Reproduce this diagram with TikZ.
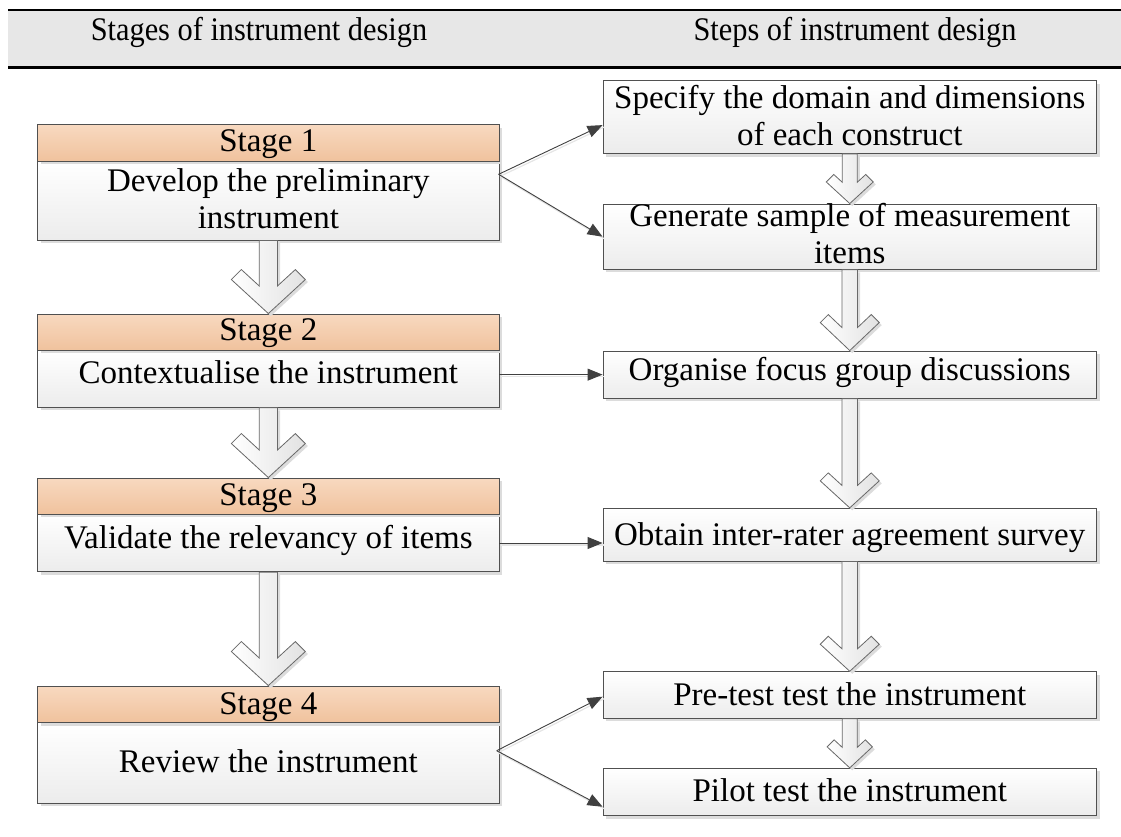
\documentclass[tikz,border=0pt]{standalone}
\usepackage{fontspec}
\setmainfont{Liberation Serif}
\usetikzlibrary{arrows.meta,calc,shadows}

\definecolor{bandgray}{RGB}{231,231,231}
\definecolor{orangetop}{RGB}{248,217,192}
\definecolor{orangebot}{RGB}{240,194,157}
\definecolor{boxbot}{RGB}{236,236,236}
\definecolor{edgegray}{RGB}{80,80,80}
\definecolor{conngray}{RGB}{64,64,64}
\definecolor{shadegray}{RGB}{220,220,220}
\definecolor{arrowgray}{RGB}{226,226,226}
\definecolor{arrowedge}{RGB}{105,105,105}

\tikzset{
  boxshadow/.style={drop shadow={shadow xshift=3pt, shadow yshift=-3pt, fill=shadegray, opacity=1}},
  plainbox/.style={draw=edgegray, line width=0.9pt, top color=white, bottom color=boxbot, inner sep=0pt, boxshadow},
  stagehead/.style={draw=edgegray, line width=0.9pt, top color=orangetop, bottom color=orangebot,
                    inner sep=0pt, minimum width=461.3pt, boxshadow},
  stagebody/.style={plainbox, minimum width=461.3pt},
  stepbox/.style={plainbox, minimum width=493.5pt},
  txt/.style={font=\fontsize{33}{36}\selectfont, inner sep=0pt, anchor=base},
  conn/.style={draw=conngray, line width=0.9pt, -{Triangle[length=15pt,width=12pt]}},
  connshade/.style={draw=black!10, line width=1.2pt, transform canvas={xshift=1.5pt,yshift=-2pt}},
  fatarr/.style={draw=arrowedge, line width=0.8pt, left color=white, right color=arrowgray,
                 drop shadow={shadow xshift=2.5pt, shadow yshift=-2.5pt, fill=shadegray, opacity=1}}
}

% hollow block arrow from the bottom of #1 to the top of #2
% #3 shaft half width, #4 head half width, #5 head length, #6 head thickness
\newcommand{\fatarrow}[6]{%
  \pgfmathsetmacro{\fatjoin}{#5+#6-#5*(#4-#6-#3)/#4}%
  \path[fatarr] let \p1=(#1.south), \p2=(#2.north) in
    (\x2-#3pt,\y1) -- (\x2-#3pt,\y2+\fatjoin pt)
    -- (\x2-#4pt+#6pt,\y2+#5pt+#6pt) -- (\x2-#4pt,\y2+#5pt)
    -- (\x2,\y2)
    -- (\x2+#4pt,\y2+#5pt) -- (\x2+#4pt-#6pt,\y2+#5pt+#6pt)
    -- (\x2+#3pt,\y2+\fatjoin pt) -- (\x2+#3pt,\y1) -- cycle;
}

\begin{document}
\begin{tikzpicture}[x=1pt,y=-1pt]
\useasboundingbox (0,0) rectangle (1121,836);

% column headings
\fill[bandgray] (8,10) rectangle (1121,67.7);
\draw[line width=2.6pt] (8,10) -- (1121,10) (8,67.7) -- (1121,67.7);
\node[txt] (hstages) at (259,40) {\scalebox{0.92}[1]{Stages of instrument design}};
\node[txt] (hsteps) at (855,40) {\scalebox{0.92}[1]{Steps of instrument design}};

% stages
\node[stagebody, minimum height=79pt]   (s1b) at (268.35,200.5) {};
\node[stagehead, minimum height=36.3pt] (s1h) at (268.35,142.85) {};
\node[stagebody, minimum height=57.3pt] (s2b) at (268.35,378.65) {};
\node[stagehead, minimum height=36pt]   (s2h) at (268.35,332) {};
\node[stagebody, minimum height=57.4pt] (s3b) at (268.35,543) {};
\node[stagehead, minimum height=36.3pt] (s3h) at (268.35,496.15) {};
\node[stagebody, minimum height=80.6pt] (s4b) at (268.35,763) {};
\node[stagehead, minimum height=36.7pt] (s4h) at (268.35,704.35) {};

\node[txt] (s1ta) at (268.35,151.7) {Stage 1};
\node[txt] (s1tb) at (268.35,191.7) {Develop the preliminary};
\node[txt] (s1tc) at (268.35,228)   {instrument};
\node[txt] (s2ta) at (268.35,340)   {Stage 2};
\node[txt] (s2tb) at (268.35,383)   {Contextualise the instrument};
\node[txt] (s3ta) at (268.35,505)   {Stage 3};
\node[txt] (s3tb) at (268.35,548)   {Validate the relevancy of items};
\node[txt] (s4ta) at (268.35,714)   {Stage 4};
\node[txt] (s4tb) at (268.35,772)   {Review the instrument};

% steps
\node[stepbox, minimum height=72.8pt] (spec) at (849.75,117.1) {};
\node[stepbox, minimum height=65.3pt] (gen)  at (849.75,236.65) {};
\node[stepbox, minimum height=47.3pt] (org)  at (849.75,374.65) {};
\node[stepbox, minimum height=52.7pt] (obt)  at (849.75,534.65) {};
\node[stepbox, minimum height=46.6pt] (pre)  at (849.75,695) {};
\node[stepbox, minimum height=47.4pt] (pil)  at (849.75,792) {};

\node[txt] (spta) at (849.75,108)   {Specify the domain and dimensions};
\node[txt] (sptb) at (849.75,145)   {of each construct};
\node[txt] (gnta) at (849.75,226)   {Generate sample of measurement};
\node[txt] (gntb) at (849.75,263)   {items};
\node[txt] (orgt) at (849.75,380.5) {Organise focus group discussions};
\node[txt] (obtt) at (849.75,545)   {Obtain inter-rater agreement survey};
\node[txt] (pret) at (849.75,705)   {Pre-test test the instrument};
\node[txt] (pilt) at (849.75,801.7) {Pilot test the instrument};

% block arrows between stages and between steps
\fatarrow{s1b}{s2h}{9.2}{37}{34}{10}
\fatarrow{s2b}{s3h}{9.2}{37}{34}{10}
\fatarrow{s3b}{s4h}{9.2}{37}{34}{10}
\fatarrow{spec}{gen}{7.5}{23.5}{21.6}{7.5}
\fatarrow{gen}{org}{7.8}{29.5}{28}{8}
\fatarrow{org}{obt}{7.8}{29.5}{27}{8}
\fatarrow{obt}{pre}{7.8}{29.5}{27}{8}
\fatarrow{pre}{pil}{7.5}{22.6}{21}{7}

% connectors from stages to steps
\coordinate (o1) at (498.6,174.3);
\coordinate (o4) at (496.7,750.7);
\draw[connshade] (o1) -- ($(spec.west)+(0,8)$);
\draw[connshade] (o1) -- (gen.west);
\draw[connshade] (s2b.east |- org.west) -- (org.west);
\draw[connshade] (s3b.east) -- (s3b.east -| obt.west);
\draw[connshade] (o4) -- ($(pre.west)+(0,1.7)$);
\draw[connshade] (o4) -- ($(pil.west)+(0,14.7)$);

\draw[conn] (o1) -- ($(spec.west)+(0,8)$);
\draw[conn] (o1) -- (gen.west);
\draw[conn] (s2b.east |- org.west) -- (org.west);
\draw[conn] (s3b.east) -- (s3b.east -| obt.west);
\draw[conn] (o4) -- ($(pre.west)+(0,1.7)$);
\draw[conn] (o4) -- ($(pil.west)+(0,14.7)$);
\end{tikzpicture}
\end{document}
